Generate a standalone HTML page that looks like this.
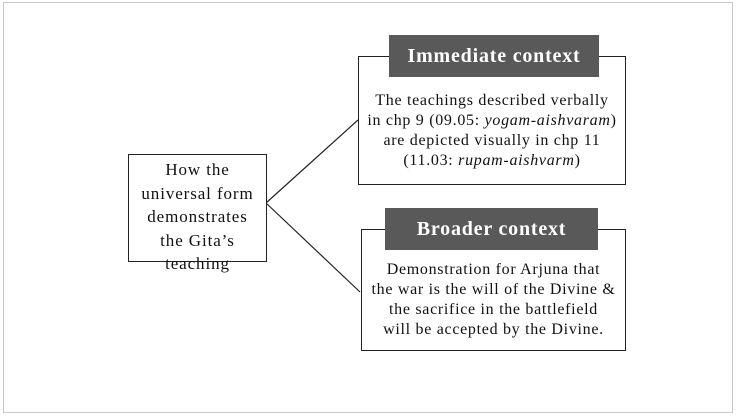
<!DOCTYPE html>
<html><head><style>
body{margin:0;width:738px;height:418px;background:#fff;position:relative;overflow:hidden;font-family:"Liberation Serif",serif;color:#111}
.b{position:absolute;box-sizing:border-box;border:1.5px solid #222;background:#fff}
.t{position:absolute;text-align:center;font-size:16px;letter-spacing:0.7px;line-height:20px;white-space:nowrap}
.h{position:absolute;background:#595959;color:#fff;font-weight:bold;font-size:20px;letter-spacing:0.8px;text-align:center;box-sizing:border-box}
i{font-style:italic}
</style></head><body>
<div style="position:absolute;left:3px;top:2px;width:730px;height:411px;border:1px solid #c8c8c8;box-sizing:border-box"></div>
<svg style="position:absolute;left:0;top:0" width="738" height="418"><line x1="266" y1="203" x2="358" y2="120" stroke="#222" stroke-width="1.2"/><line x1="266" y1="203" x2="360" y2="292" stroke="#222" stroke-width="1.2"/></svg>
<div class="b" style="left:128px;top:154px;width:139px;height:108px"></div>
<div class="t" style="left:118px;top:158px;width:159px;line-height:23.5px;font-size:17px;letter-spacing:0.9px">How the<br>universal form<br>demonstrates<br>the Gita’s<br>teaching</div>
<div class="b" style="left:358px;top:56px;width:268px;height:129px"></div>
<div class="h" style="left:389px;top:35px;width:210px;height:42px;line-height:42px">Immediate context</div>
<div class="t" style="left:352px;top:91px;width:280px">The teachings described verbally<br>in chp 9 (09.05: <i>yogam-aishvaram</i>)<br>are depicted visually in chp 11<br>(11.03: <i>rupam-aishvarm</i>)</div>
<div class="b" style="left:361px;top:229px;width:265px;height:122px"></div>
<div class="h" style="left:385px;top:208px;width:213px;height:42px;line-height:42px">Broader context</div>
<div class="t" style="left:353px;top:260px;width:281px">Demonstration for Arjuna that<br>the war is the will of the Divine &amp;<br>the sacrifice in the battlefield<br>will be accepted by the Divine.</div>
</body></html>
